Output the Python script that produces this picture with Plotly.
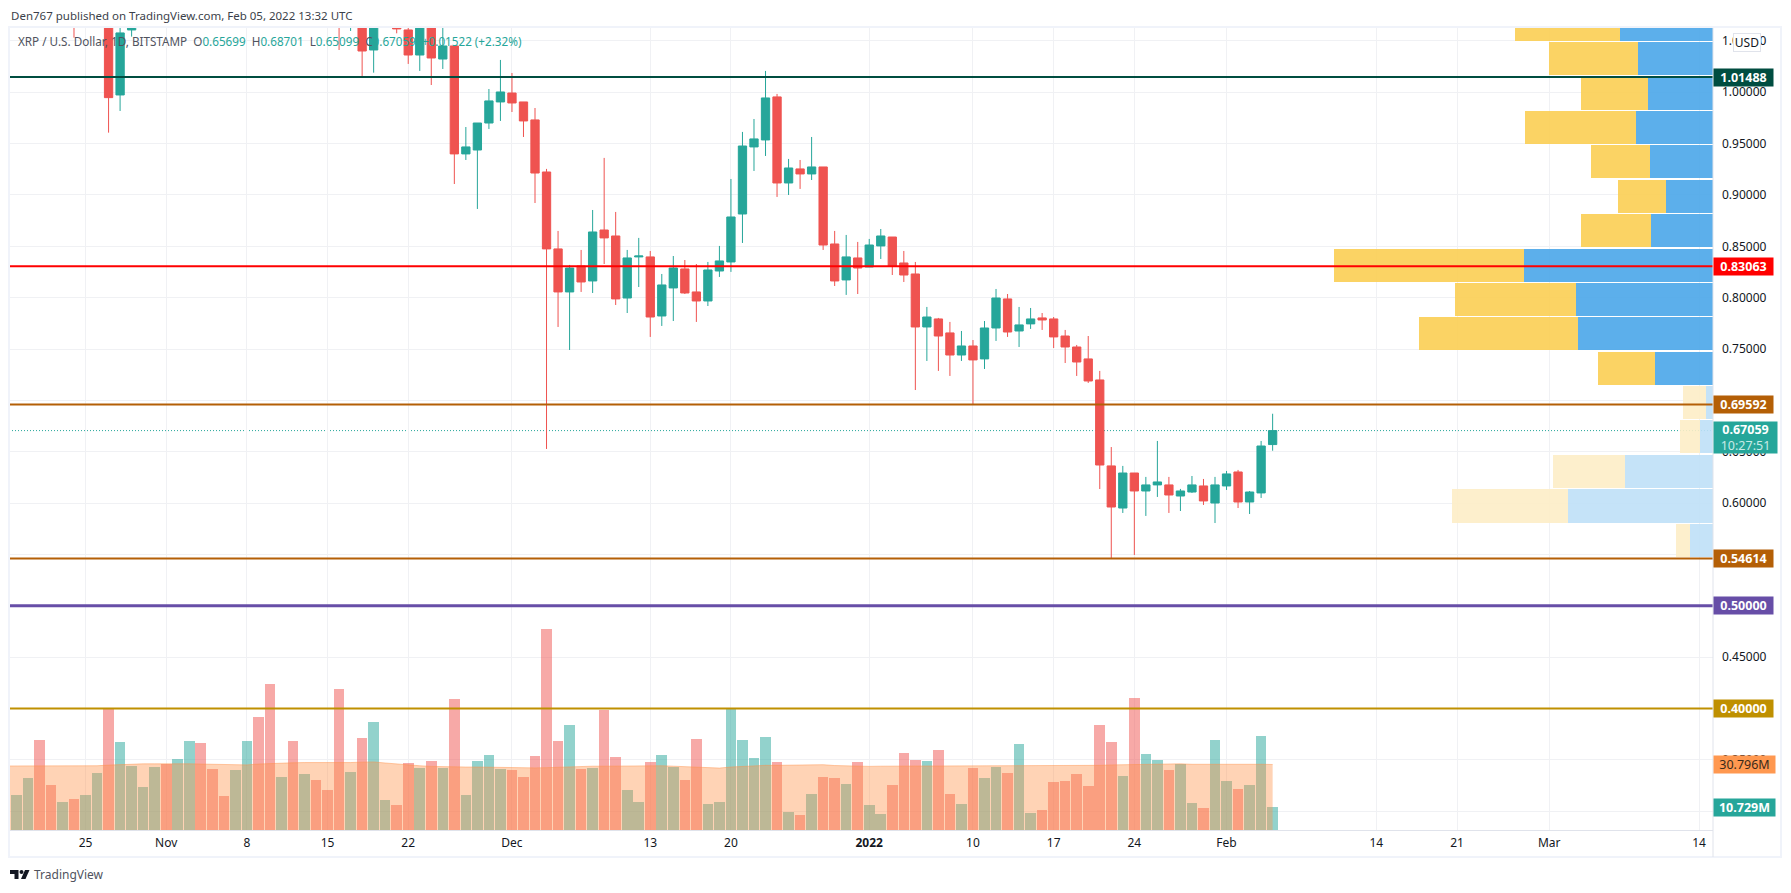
"""
XRP / USD daily candles with volume, volume profile and hand-drawn levels.
"""
import pandas as pd
import plotly.graph_objects as go

FONT = "Noto Sans"
UP_COLOR = "#26a69a"
DOWN_COLOR = "#ef5350"
GRID_COLOR = "#f0f1f4"
AXIS_COLOR = "#e0e3eb"
FRAME_COLOR = "#f0f3fa"
LOGO_COLOR = "#131722"

WIDTH, HEIGHT = 1791, 893
PLOT_L, PLOT_R, PLOT_T, PLOT_B = 9, 1713, 28, 830

# Candles, daily from 2021-10-19 (the ones above the visible range are rough)
dates = pd.date_range("2021-10-19", periods=110, freq="D")

opens = [1.090, 1.115, 1.125, 1.100, 1.095, 1.100, 1.085, 1.095, 1.115, 0.9974,
         1.0607, 1.090, 1.115, 1.130, 1.110, 1.135, 1.180, 1.150, 1.135, 1.125,
         1.155, 1.240, 1.220, 1.200, 1.210, 1.175, 1.190, 1.170, 1.150, 1.090,
         1.100, 1.0412, 1.080, 1.090, 1.0607, 1.0363, 1.080, 1.0324, 1.0451, 0.9400,
         0.9438, 0.9701, 0.9906, 0.9993, 0.9906, 0.9731, 0.9224, 0.8475, 0.8056, 0.8309,
         0.8163, 0.8659, 0.8601, 0.7997, 0.8397, 0.8397, 0.7822, 0.8095, 0.8280, 0.8056,
         0.7968, 0.8260, 0.8348, 0.8815, 0.9468, 0.9536, 0.9955, 0.9117, 0.9254, 0.9205,
         0.9273, 0.8523, 0.8173, 0.8387, 0.8299, 0.8504, 0.8591, 0.8338, 0.8231, 0.7715,
         0.7793, 0.7657, 0.7442, 0.7530, 0.7404, 0.7705, 0.7988, 0.7676, 0.7745, 0.7803,
         0.7793, 0.7627, 0.7520, 0.7404, 0.7199, 0.6362, 0.5952, 0.6293, 0.6118, 0.6177,
         0.6177, 0.6069, 0.6108, 0.6167, 0.6001, 0.6167, 0.6303, 0.6011, 0.6099, 0.65699]
highs = [1.130, 1.140, 1.150, 1.120, 1.110, 1.115, 1.110, 1.130, 1.135, 1.080,
         1.100, 1.130, 1.140, 1.150, 1.150, 1.200, 1.200, 1.170, 1.150, 1.170,
         1.250, 1.300, 1.280, 1.250, 1.230, 1.210, 1.210, 1.200, 1.170, 1.130,
         1.120, 1.110, 1.120, 1.110, 1.070, 1.100, 1.100, 1.070, 1.0451, 0.9662,
         0.9701, 1.0032, 1.0315, 1.0188, 0.9906, 0.9847, 0.9254, 0.8650, 0.8319, 0.8465,
         0.8854, 0.9361, 0.8835, 0.8465, 0.8582, 0.8455, 0.8231, 0.8406, 0.8367, 0.8328,
         0.8348, 0.8504, 0.9156, 0.9614, 0.9740, 1.0208, 0.9984, 0.9351, 0.9341, 0.9565,
         0.9273, 0.8650, 0.8611, 0.8543, 0.8572, 0.8669, 0.8591, 0.8455, 0.8348, 0.7910,
         0.7803, 0.7764, 0.7676, 0.7588, 0.7773, 0.8085, 0.8036, 0.7910, 0.7900, 0.7851,
         0.7812, 0.7686, 0.7540, 0.7627, 0.7287, 0.6546, 0.6362, 0.6293, 0.6255, 0.6605,
         0.6255, 0.6138, 0.6264, 0.6235, 0.6255, 0.6313, 0.6323, 0.6118, 0.6605, 0.68701]
lows = [1.075, 1.100, 1.085, 1.085, 1.075, 1.0532, 1.070, 1.085, 0.9607, 0.9818,
        1.0542, 1.0626, 1.085, 1.090, 1.090, 1.120, 1.120, 1.120, 1.100, 1.110,
        1.140, 1.200, 1.150, 1.180, 1.150, 1.160, 1.150, 1.140, 1.0412, 1.0597,
        1.0159, 1.0191, 1.0626, 1.0574, 1.0276, 1.0208, 1.0071, 1.0227, 0.9107, 0.9341,
        0.8864, 0.9643, 0.9721, 0.9808, 0.9565, 0.8922, 0.6527, 0.7715, 0.7491, 0.8056,
        0.8046, 0.8328, 0.7929, 0.7851, 0.8104, 0.7618, 0.7725, 0.7773, 0.8036, 0.7764,
        0.7919, 0.8202, 0.8251, 0.8533, 0.9234, 0.9380, 0.8981, 0.9000, 0.9059, 0.9146,
        0.8465, 0.8114, 0.8027, 0.8036, 0.8299, 0.8377, 0.8221, 0.8153, 0.7101, 0.7384,
        0.7287, 0.7238, 0.7384, 0.6965, 0.7306, 0.7579, 0.7618, 0.7520, 0.7696, 0.7686,
        0.7510, 0.7364, 0.7238, 0.7170, 0.6137, 0.54614, 0.5904, 0.5495, 0.5875, 0.6060,
        0.5904, 0.5923, 0.6099, 0.5982, 0.5806, 0.6128, 0.5952, 0.5894, 0.6050, 0.65099]
closes = [1.115, 1.125, 1.100, 1.095, 1.100, 1.085, 1.095, 1.115, 0.9948, 1.0578,
          1.090, 1.115, 1.130, 1.110, 1.135, 1.180, 1.150, 1.135, 1.125, 1.155,
          1.240, 1.220, 1.200, 1.210, 1.175, 1.190, 1.170, 1.150, 1.090, 1.110,
          1.0402, 1.090, 1.100, 1.0617, 1.0363, 1.080, 1.0334, 1.0451, 0.9400, 0.9468,
          0.9701, 0.9916, 1.0003, 0.9896, 0.9721, 0.9214, 0.8475, 0.8056, 0.8289, 0.8153,
          0.8640, 0.8582, 0.7988, 0.8387, 0.8406, 0.7812, 0.8124, 0.8289, 0.8046, 0.7968,
          0.8270, 0.8358, 0.8786, 0.9477, 0.9546, 0.9945, 0.9117, 0.9263, 0.9205, 0.9273,
          0.8513, 0.8163, 0.8397, 0.8289, 0.8513, 0.8601, 0.8309, 0.8221, 0.7715, 0.7812,
          0.7627, 0.7442, 0.7530, 0.7394, 0.7705, 0.7997, 0.7666, 0.7735, 0.7793, 0.7783,
          0.7618, 0.7520, 0.7374, 0.7189, 0.6371, 0.5962, 0.6293, 0.6118, 0.6177, 0.6206,
          0.6079, 0.6118, 0.6177, 0.6021, 0.6177, 0.6284, 0.6011, 0.6108, 0.6556, 0.67059]

# Volume in millions, and its moving average (starts one day earlier, left of the first bar)
volumes = [16.5, 24.4, 42.3, 21.2, 13.2, 14.6, 16.5, 26.8, 57.2, 41.4,
           30.1, 20.2, 29.6, 31.0, 33.4, 41.8, 40.9, 28.7, 16.0, 28.2,
           41.8, 53.1, 68.6, 24.9, 41.8, 26.3, 23.5, 18.8, 66.3, 27.3,
           43.2, 50.8, 14.1, 11.8, 31.5, 29.1, 32.4, 29.1, 61.6, 16.5,
           32.4, 35.3, 28.7, 28.2, 24.9, 34.8, 94.5, 41.8, 49.4, 28.7,
           29.1, 56.4, 34.3, 18.8, 13.2, 32.0, 35.3, 29.6, 23.5, 42.8,
           12.2, 13.2, 56.9, 42.3, 33.8, 43.7, 32.0, 8.5, 7.1, 16.9,
           24.9, 24.4, 21.6, 32.0, 11.8, 7.5, 21.2, 36.2, 32.9, 32.4,
           37.6, 16.9, 12.2, 29.1, 24.4, 29.6, 26.8, 40.4, 8.0, 9.4,
           22.6, 23.0, 26.3, 20.7, 49.4, 41.4, 25.4, 62.1, 35.7, 32.9,
           28.2, 31.0, 12.7, 10.3, 42.3, 23.0, 19.3, 21.2, 44.2, 10.729]
volume_ma = [30.1, 30.1, 30.2, 30.4, 30.3, 30.3, 30.3, 30.2, 30.2, 30.5, 30.8,
             31.0, 31.1, 31.1, 31.2, 31.2, 31.1, 31.0, 30.9, 30.7, 30.5,
             30.6, 31.0, 31.3, 31.4, 31.6, 31.7, 31.7, 31.6, 31.5, 31.7,
             31.9, 32.0, 31.5, 31.0, 30.4, 30.2, 29.9, 29.7, 29.6, 29.6,
             29.6, 29.5, 29.3, 29.3, 29.2, 29.2, 29.3, 29.5, 29.8, 29.9,
             30.0, 30.0, 30.1, 30.1, 30.1, 30.1, 30.2, 30.0, 29.7, 29.7,
             29.3, 29.1, 29.6, 29.9, 30.2, 30.4, 30.4, 30.4, 30.4, 30.6,
             30.7, 30.3, 30.1, 30.0, 29.9, 30.0, 30.1, 30.1, 30.1, 30.1,
             30.1, 30.1, 30.1, 30.1, 30.2, 30.3, 30.4, 30.4, 30.3, 30.2,
             30.1, 30.1, 30.1, 30.2, 30.4, 30.6, 30.7, 31.0, 31.1, 31.2,
             31.3, 31.1, 30.9, 30.9, 31.1, 31.2, 31.1, 31.0, 30.9, 30.796]

# Volume profile rows, millions traded per price row, top row first
profile_prices = [1.0660, 1.0325, 0.9984, 0.9657, 0.9322, 0.8986, 0.8650, 0.8314,
                  0.7983, 0.7647, 0.7311, 0.6980, 0.6644, 0.6306, 0.5972, 0.5636]
profile_up = [93.3, 75.3, 65.3, 77.3, 63.3, 47.3, 62.3, 189.3,
              137.3, 135.3, 58.3, 7.3, 13.3, 88.3, 145.3, 23.3]
profile_down = [105, 89, 67, 111, 59, 48, 70, 190,
                121, 159, 57, 23, 20, 72, 116, 14]
profile_in_value_area = [True] * 11 + [False] * 5

# Horizontal levels drawn on the chart: price, colour, line width
level_prices = [1.01488, 0.83063, 0.69592, 0.54614, 0.50000, 0.40000]
level_colors = ["#004d40", "#ff0000", "#b45f06", "#b45f06", "#674ea7", "#bf9000"]
level_widths = [2, 2, 2, 2, 3, 2]

last_price = 0.67059
countdown = "10:27:51"

y_ticks = [0.30, 0.35, 0.40, 0.45, 0.50, 0.55, 0.60, 0.65, 0.70, 0.75, 0.80, 0.85,
           0.90, 0.95, 1.00, 1.05]
x_tick_dates = ["2021-10-25", "2021-11-01", "2021-11-08", "2021-11-15", "2021-11-22",
                "2021-12-01", "2021-12-13", "2021-12-20", "2022-01-01", "2022-01-10",
                "2022-01-17", "2022-01-24", "2022-02-01", "2022-02-14", "2022-02-21",
                "2022-03-01", "2022-03-14"]
x_tick_labels = ["25", "Nov", "8", "15", "22", "Dec", "13", "20", "<b>2022</b>", "10",
                 "17", "24", "Feb", "14", "21", "Mar", "14"]

header_text = "Den767 published on TradingView.com, Feb 05, 2022 13:32 UTC"
symbol_text = "XRP / U.S. Dollar, 1D, BITSTAMP"
ohlc_text = [("O", "0.65699"), ("H", "0.68701"), ("L", "0.65099"), ("C", "0.67059")]
change_text = "+0.01522 (+2.32%)"

VOLUME_AXIS_MAX = 377
PROFILE_AXIS_MAX = 1704


def paper_x(px):
    """Window pixel to paper x"""
    return (px - PLOT_L) / (PLOT_R - PLOT_L)


def paper_y(py):
    """Window pixel to paper y"""
    return 1 - (py - PLOT_T) / (PLOT_B - PLOT_T)


def axis_tag(text, y, color, yref="y", width=59, height=17, font_color="white"):
    """Coloured price tag sitting on the right axis"""
    return dict(
        text=text, xref="paper", x=1, xanchor="left", yref=yref, y=y, yanchor="middle",
        showarrow=False, width=width, height=height, bgcolor=color, borderpad=0,
        align="center", font=dict(family=FONT, size=12.5, color=font_color),
    )


def logo_path(points):
    """Closed path string from window pixels, for the TradingView mark"""
    parts = [f"{paper_x(px):.5f},{paper_y(py):.5f}" for px, py in points]
    return "M" + " L".join(parts) + " Z"


fig = go.Figure()

fig.add_trace(go.Candlestick(
    x=dates, open=opens, high=highs, low=lows, close=closes,
    increasing=dict(line=dict(color=UP_COLOR, width=1), fillcolor=UP_COLOR),
    decreasing=dict(line=dict(color=DOWN_COLOR, width=1), fillcolor=DOWN_COLOR),
    whiskerwidth=0, showlegend=False, hoverinfo="skip",
))

# Volume bars take the colour of their candle
volume_colors = ["rgba(38,166,154,0.5)" if c >= o else "rgba(239,83,80,0.5)"
                 for o, c in zip(opens, closes)]
fig.add_trace(go.Bar(x=dates, y=volumes, yaxis="y2", marker=dict(color=volume_colors, line_width=0),
                     showlegend=False, hoverinfo="skip"))

ma_dates = [pd.Timestamp("2021-10-18")] + list(dates)
fig.add_trace(go.Scatter(
    x=ma_dates, y=volume_ma, yaxis="y2", mode="lines", fill="tozeroy",
    line=dict(color="rgba(255,145,70,0.45)", width=1), fillcolor="rgba(255,145,70,0.4)",
    showlegend=False, hoverinfo="skip",
))

# Volume profile grows from the right edge: up volume first, then down volume
up_colors = ["rgba(74,166,233,0.9)" if a else "rgba(191,224,247,0.9)" for a in profile_in_value_area]
down_colors = ["rgba(251,206,83,0.9)" if a else "rgba(253,237,198,0.9)" for a in profile_in_value_area]
fig.add_trace(go.Bar(x=profile_up, y=profile_prices, xaxis="x2", orientation="h", width=0.0322,
                     marker=dict(color=up_colors, line_width=0), showlegend=False, hoverinfo="skip"))
fig.add_trace(go.Bar(x=profile_down, y=profile_prices, xaxis="x2", orientation="h", width=0.0322,
                     marker=dict(color=down_colors, line_width=0), showlegend=False, hoverinfo="skip"))

shapes = []
for price, color, line_width in zip(level_prices, level_colors, level_widths):
    shapes.append(dict(type="line", xref="paper", x0=0, x1=1, yref="y", y0=price, y1=price,
                       line=dict(color=color, width=line_width), layer="above"))
shapes.append(dict(type="line", xref="paper", x0=0, x1=1, yref="y", y0=last_price, y1=last_price,
                   line=dict(color=UP_COLOR, width=1, dash="1px,2px"), layer="below"))
# Frame round the whole chart and the strip under the price axis
shapes.append(dict(type="rect", xref="paper", yref="paper",
                   x0=paper_x(9), x1=paper_x(1781), y0=paper_y(857), y1=paper_y(27),
                   line=dict(color=FRAME_COLOR, width=2), layer="above"))
shapes.append(dict(type="line", xref="paper", yref="paper",
                   x0=1, x1=1, y0=paper_y(857), y1=1,
                   line=dict(color=AXIS_COLOR, width=1), layer="above"))
# TradingView mark beside the name at the bottom
for mark in ([(10, 870), (18.5, 870), (18.5, 879), (14.5, 879), (14.5, 874), (10, 874)],
             [(25, 870), (29.5, 870), (25.5, 879), (21, 879)]):
    shapes.append(dict(type="path", xref="paper", yref="paper", path=logo_path(mark),
                       fillcolor=LOGO_COLOR, line_width=0, layer="above"))
shapes.append(dict(type="circle", xref="paper", yref="paper",
                   x0=paper_x(19.5), x1=paper_x(23.5), y0=paper_y(874), y1=paper_y(870),
                   fillcolor=LOGO_COLOR, line_width=0, layer="above"))

annotations = [axis_tag(f"<b>{p:.5f}</b>", p, c) for p, c in zip(level_prices, level_colors)]
annotations.append(axis_tag(f"<b>{last_price:.5f}</b><br><span style='color:#c8ebe7'>{countdown}</span>",
                            last_price - 0.0067, UP_COLOR, width=63, height=31))
annotations.append(axis_tag("30.796M", volume_ma[-1], "#ff9850", yref="y2", width=61, font_color="#3a2a1a"))
annotations.append(axis_tag("<b>10.729M</b>", volumes[-1], UP_COLOR, yref="y2", width=61))

annotations.append(dict(text="USD", xref="paper", x=paper_x(1747), xanchor="center",
                        yref="paper", y=paper_y(42.5), yanchor="middle",
                        showarrow=False, bgcolor="white", bordercolor=AXIS_COLOR, borderwidth=1,
                        width=26, height=17, borderpad=0, font=dict(family=FONT, size=12, color="#131722")))

annotations.append(dict(text=header_text, xref="paper", x=paper_x(9), xanchor="left",
                        yref="paper", y=paper_y(15), yanchor="middle", showarrow=False,
                        font=dict(family=FONT, size=11.5, color="#3b3f4a")))

value_parts = "&nbsp;&nbsp;".join(
    f"{name}<span style='color:{UP_COLOR}'>{value}</span>" for name, value in ohlc_text)
legend_line = (f"{symbol_text}&nbsp;&nbsp;{value_parts}&nbsp;&nbsp;"
               f"<span style='color:{UP_COLOR}'>{change_text}</span>")
annotations.append(dict(text=legend_line, xref="paper", x=paper_x(16), xanchor="left",
                        yref="paper", y=paper_y(41), yanchor="middle", showarrow=False,
                        font=dict(family=FONT, size=11.7, color="#50535e")))

annotations.append(dict(text="TradingView", xref="paper", x=paper_x(32), xanchor="left",
                        yref="paper", y=paper_y(875), yanchor="middle", showarrow=False,
                        font=dict(family=FONT, size=12, color="#50535e")))

fig.update_layout(
    width=WIDTH, height=HEIGHT, autosize=False,
    margin=dict(l=PLOT_L, r=WIDTH - PLOT_R, t=PLOT_T, b=HEIGHT - PLOT_B, pad=0),
    plot_bgcolor="white", paper_bgcolor="white",
    barmode="stack", bargap=0.08, boxgap=0.28, boxgroupgap=0,
    showlegend=False, font=dict(family=FONT, size=12, color="#131722"),
    xaxis=dict(
        type="date", range=["2021-10-18 08:40", "2022-03-15 05:00"], rangeslider=dict(visible=False),
        tickmode="array", tickvals=x_tick_dates, ticktext=x_tick_labels, ticks="", ticklabelstandoff=2,
        showgrid=True, gridcolor=GRID_COLOR, gridwidth=1, zeroline=False,
        showline=True, linecolor=AXIS_COLOR, linewidth=1, fixedrange=True,
    ),
    xaxis2=dict(overlaying="x", side="top", range=[PROFILE_AXIS_MAX, 0], visible=False, fixedrange=True),
    yaxis=dict(
        side="right", range=[0.2817, 1.0626], tickmode="array", tickvals=y_ticks,
        tickformat=".5f", ticks="", ticklabelstandoff=8,
        showgrid=True, gridcolor=GRID_COLOR, gridwidth=1, zeroline=False, fixedrange=True,
    ),
    yaxis2=dict(overlaying="y", side="right", range=[0, VOLUME_AXIS_MAX], visible=False, fixedrange=True),
    shapes=shapes, annotations=annotations,
)

fig.write_html("out.html", config=dict(displayModeBar=False),
               post_script="document.body.style.margin='0';")
